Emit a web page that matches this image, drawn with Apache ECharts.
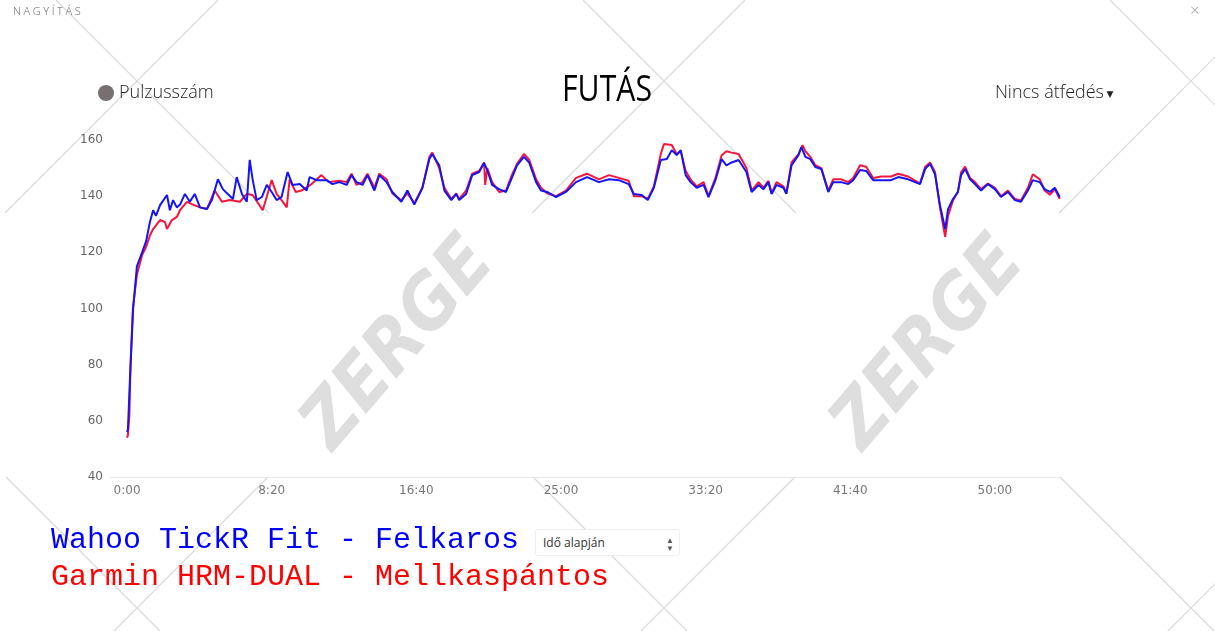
<!DOCTYPE html>
<html>
<head>
<meta charset="utf-8">
<script src="https://cdn.jsdelivr.net/npm/echarts@6/dist/echarts.min.js"></script>
<style>
html,body{margin:0;padding:0;background:#fff;}
#chart{width:1215px;height:631px;position:absolute;left:0;top:0;}
.ui{position:absolute;font-family:"Open Sans",sans-serif;}
#zoomlbl{left:13px;top:3px;font-size:11px;letter-spacing:2.6px;color:#666;font-weight:300;}
#close{left:1190px;top:-2px;font-size:17px;color:#999;font-weight:300;}
#sel{left:535px;top:529px;width:145px;height:27px;border:1px solid #eee;border-radius:3px;background:#fff;box-sizing:border-box;font-size:12px;color:#333;line-height:26px;padding-left:7px;}
#sel span{position:absolute;right:5px;top:0;font-size:8px;line-height:8px;color:#555;padding-top:6px;}
</style>
</head>
<body>
<div id="chart"></div>
<div class="ui" id="zoomlbl">NAGYÍTÁS</div>
<div class="ui" id="close">×</div>
<div class="ui" id="sel">Idő alapján<span>▲<br>▼</span></div>
<script>
// Wahoo TickR Fit (blue) — time in seconds, heart rate in bpm
const wahooT = [0,3,10,21,34,52,66,79,90,100,114,138,148,159,172,183,200,217,234,252,276,293,314,331,348,366,379,397,414,424,434,448,466,483,500,517,534,555,572,597,621,631,655,690,710,734,759,776,793,814,831,855,872,897,917,948,969,993,1021,1045,1055,1079,1097,1121,1138,1148,1172,1193,1217,1234,1245,1262,1286,1310,1328,1348,1372,1390,1414,1431,1452,1483,1517,1552,1590,1631,1666,1700,1734,1752,1779,1800,1821,1845,1866,1883,1900,1914,1931,1948,1969,1993,2010,2034,2055,2072,2090,2114,2141,2159,2183,2200,2217,2228,2245,2269,2279,2297,2321,2331,2345,2362,2379,2400,2424,2441,2469,2493,2510,2534,2555,2579,2607,2641,2666,2700,2724,2741,2759,2776,2793,2810,2828,2838,2855,2872,2883,2897,2914,2931,2952,2976,3000,3021,3045,3069,3090,3114,3131,3155,3172,3190,3207,3224];
const wahooHR = [56,57,75,100,115,120,124,130.8,135,133,136.8,140.4,135,138.6,136,137,140.8,138,140.8,136,135.4,138.6,146,142.5,140.8,139,146.8,140.8,138,152.9,146,138.6,139.7,144,141.5,138.6,139.7,148.6,144,144.3,142,146.8,145.7,145.7,144.3,145,144,147.5,145,144,147.5,142,147.5,145,141.5,138,142,137,143,153.2,155,151,142,138.6,140.8,138.6,140.8,147.5,148.6,151.8,149.3,144,142.5,141.5,146,151,154,152,145,142,141.5,139.7,141.5,145,146.8,145,146,145.7,144.3,140.8,140.4,138.6,143,152.9,153.2,156.4,154.6,156.4,147.5,145,143,144,139.7,145.7,153.2,151,152,152.9,148.6,141.5,144,142.5,145,140.8,144,143,140.8,151,154.6,157.5,154,153.2,150.4,149.7,141.5,145,145,144.3,145.7,149.3,149,145.7,145.7,145.7,146.8,146,145,144.3,149.7,151.5,147.8,136.8,128.3,135.4,139,141.5,147.5,149.7,146,144.3,142,144.3,142.5,139.7,141.5,138.6,138,142,145.7,145,142.5,141.5,143,139.7];

// Garmin HRM-DUAL (red)
const garminT = [0,3,8,12,20,34,52,66,79,90,114,131,138,155,172,183,207,228,252,276,303,328,355,390,414,434,469,500,517,534,552,562,583,603,638,672,697,734,759,776,793,814,831,855,872,897,917,948,969,993,1021,1045,1055,1079,1097,1121,1138,1148,1172,1193,1217,1234,1238,1245,1262,1286,1310,1328,1348,1372,1390,1414,1431,1452,1483,1517,1552,1590,1631,1666,1700,1734,1752,1779,1800,1821,1845,1856,1883,1900,1914,1931,1948,1969,1993,2010,2034,2055,2072,2090,2114,2141,2159,2183,2200,2217,2228,2245,2269,2279,2297,2321,2335,2345,2362,2379,2400,2424,2441,2469,2493,2510,2534,2555,2579,2607,2641,2666,2700,2724,2741,2759,2776,2793,2810,2828,2838,2855,2872,2883,2897,2914,2931,2952,2976,3000,3021,3045,3069,3090,3114,3131,3155,3172,3190,3207,3224];
const garminHR = [54,55,62,80,100,112,119,122,126,128.3,131.5,130.8,128.3,131.5,132.6,135,138,137,136,135.4,142,138,138.6,138,140.8,140.4,135,145.7,140.8,138.6,136,146,141.5,142,144.3,147.5,145,145.5,145,148,144,145,148,143,148,146,141,138.5,141,137.5,143,154,155.5,150,143,139,141,139,142,148,149,152,144,150,145,141.5,142,147,151.5,155,153,146,143,141,140,142,146.5,148,146,147.5,146.5,145.5,140,140,139,143.5,155,158.6,158.2,155,156,149,146,143.5,145,140,146.5,154.5,156,155.5,155,150,142,145,143,145.5,141,145,143.5,141,152,155,158.2,156,154,151,150,142,146,146,145,146.5,151,150.5,146.5,147,147,148,147,145.5,144.5,150.5,152,148.5,136,125.5,133,138.5,141.5,148.5,150.5,146.5,145,142.5,144.5,143,140,142,139,138.5,143,147.8,146,142,140.5,142.5,139];

// Axis ticks
const xTickValues = [0,500,1000,1500,2000,2500,3000];
const xTickLabels = ['0:00','8:20','16:40','25:00','33:20','41:40','50:00'];
const yTicks = [40,60,80,100,120,140,160];

// Decorative watermark lattice offsets
const wmDownRight = [-471,56,583,1110];  // x - y = c
const wmDownLeft = [218,745,1272,1799];  // x + y = d
const wmBands = [[0,213],[477,631]];

const graphics = [];
const wmStyle = {stroke:'#dadada', lineWidth:1.2};
wmDownRight.forEach(c => wmBands.forEach(b => {
  graphics.push({type:'line', z:0, silent:true, shape:{x1:c+b[0], y1:b[0], x2:c+b[1], y2:b[1]}, style:wmStyle});
}));
wmDownLeft.forEach(d => wmBands.forEach(b => {
  graphics.push({type:'line', z:0, silent:true, shape:{x1:d-b[0], y1:b[0], x2:d-b[1], y2:b[1]}, style:wmStyle});
}));
[[400,345],[930,345]].forEach(p => {
  graphics.push({type:'text', z:0, silent:true, x:p[0], y:p[1], rotation:0.86, scaleX:0.92,
    style:{text:'ZERGE', fill:'#dedede', font:'italic bold 74px "DejaVu Sans"', textAlign:'center', textVerticalAlign:'middle'}});
});
// Header
graphics.push({type:'text', z:5, x:607, y:91, scaleX:0.84, style:{text:'FUTÁS', fill:'#000', font:'36px "Open Sans"', textAlign:'center', textVerticalAlign:'middle'}});
graphics.push({type:'circle', z:5, shape:{cx:106, cy:93, r:8}, style:{fill:'#776f70'}});
graphics.push({type:'text', z:5, x:119, y:93, style:{text:'Pulzusszám', fill:'#222', font:'300 18px "Open Sans"', textAlign:'left', textVerticalAlign:'middle'}});
graphics.push({type:'text', z:5, x:1104, y:93, style:{text:'Nincs átfedés', fill:'#222', font:'300 18px "Open Sans"', textAlign:'right', textVerticalAlign:'middle'}});
graphics.push({type:'text', z:5, x:1110, y:95, style:{text:'▼', fill:'#222', font:'9px "DejaVu Sans"', textAlign:'center', textVerticalAlign:'middle'}});
// Footer device labels
graphics.push({type:'text', z:5, x:51, y:540, style:{text:'Wahoo TickR Fit - Felkaros', fill:'#0000ff', font:'30px "Liberation Mono"', textAlign:'left', textVerticalAlign:'middle'}});
graphics.push({type:'text', z:5, x:51, y:577, style:{text:'Garmin HRM-DUAL - Mellkaspántos', fill:'#ff0000', font:'30px "Liberation Mono"', textAlign:'left', textVerticalAlign:'middle'}});

const chart = echarts.init(document.getElementById('chart'));
chart.setOption({
  animation:false,
  backgroundColor:'transparent',
  graphic:graphics,
  grid:{left:110, right:155, top:140, bottom:154},
  xAxis:{
    type:'value', min:-59, max:3225,
    axisLine:{show:true, lineStyle:{color:'#e8e8e8', width:1}},
    axisTick:{show:false},
    splitLine:{show:false},
    axisLabel:{customValues:xTickValues, color:'#777', fontSize:12, fontFamily:'DejaVu Sans', margin:8,
      formatter:v => xTickLabels[xTickValues.indexOf(v)]}
  },
  yAxis:{
    type:'value', min:40, max:160, interval:20,
    axisLine:{show:false}, axisTick:{show:false}, splitLine:{show:false},
    axisLabel:{color:'#666', fontSize:12, fontFamily:'DejaVu Sans', margin:7,
      formatter:v => yTicks.includes(v) ? String(v) : ''}
  },
  series:[
    {name:'Garmin HRM-DUAL', type:'line', showSymbol:false, z:3,
      lineStyle:{color:'#f5163d', width:2}, itemStyle:{color:'#f5163d'},
      data:garminT.map((t,i)=>[t,garminHR[i]])},
    {name:'Wahoo TickR Fit', type:'line', showSymbol:false, z:4,
      lineStyle:{color:'#1414f5', width:2}, itemStyle:{color:'#1414f5'},
      data:wahooT.map((t,i)=>[t,wahooHR[i]])}
  ]
});
</script>
</body>
</html>
